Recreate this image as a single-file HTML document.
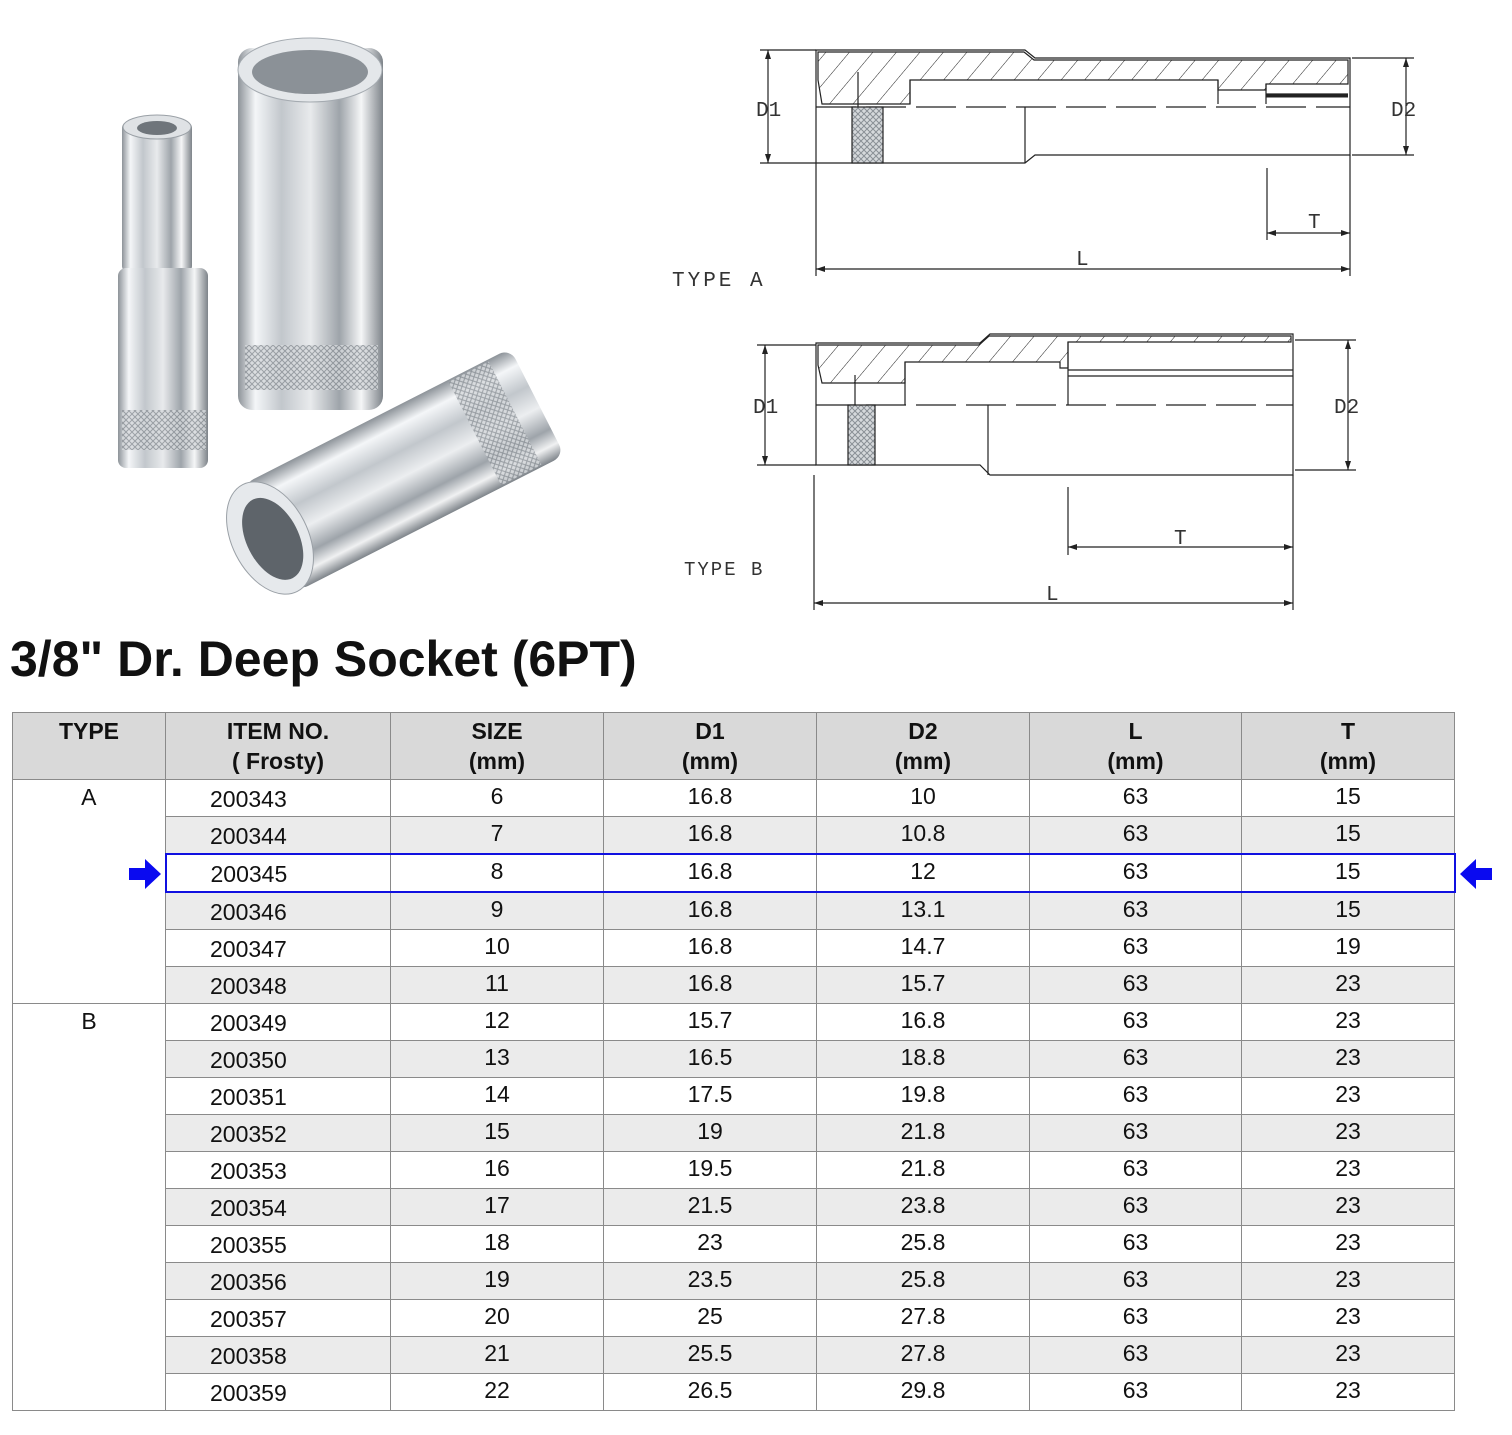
<!DOCTYPE html>
<html><head><meta charset="utf-8"><style>
body{margin:0;background:#fff;width:1512px;height:1435px;position:relative;overflow:hidden;font-family:"Liberation Sans",Arial,sans-serif}
h1{position:absolute;left:10px;top:630px;margin:0;font-size:50px;font-weight:bold;color:#111;letter-spacing:0px}
table{position:absolute;left:12px;top:712px;border-collapse:collapse;width:1443px;table-layout:fixed}
td,th{border:1px solid #8a8a8a;text-align:center;font-size:23px;color:#111;padding:0;box-sizing:border-box}
td{height:35.7px;line-height:33px;vertical-align:top}
th{background:#d9d9d9;height:67px;font-weight:bold;vertical-align:middle;line-height:30px}
tr.g td.c{background:#ebebeb}
td.t{background:#fff;vertical-align:top;line-height:34px}
td.i{text-align:left;padding-left:44px;padding-top:3px;line-height:33px}
tr.hl td.c{border-top:2px solid #1010e0;border-bottom:2px solid #1010e0}
tr.hl td.first{border-left:2px solid #1010e0}
tr.hl td.last{border-right:2px solid #1010e0}
</style></head><body>
<svg width="1512" height="620" style="position:absolute;left:0;top:0">
<defs>
<linearGradient id="ch" x1="0" x2="1" y1="0" y2="0">
<stop offset="0" stop-color="#8d9399"/><stop offset=".12" stop-color="#f4f6f8"/><stop offset=".3" stop-color="#c2c7cc"/><stop offset=".5" stop-color="#e8eaec"/><stop offset=".7" stop-color="#9ea4aa"/><stop offset=".85" stop-color="#f5f6f7"/><stop offset="1" stop-color="#7e848a"/>
</linearGradient>
<linearGradient id="chv" x1="0" x2="0" y1="0" y2="1">
<stop offset="0" stop-color="#8d9399"/><stop offset=".15" stop-color="#f4f6f8"/><stop offset=".35" stop-color="#c2c7cc"/><stop offset=".55" stop-color="#eceef0"/><stop offset=".75" stop-color="#9ea4aa"/><stop offset=".88" stop-color="#f0f1f2"/><stop offset="1" stop-color="#7e848a"/>
</linearGradient>
<pattern id="kn" width="6" height="6" patternUnits="userSpaceOnUse"><rect width="6" height="6" fill="#d6d9dc"/><path d="M0 0L6 6M6 0L0 6" stroke="#8a9096" stroke-width="1"/></pattern>
<pattern id="hat" width="18" height="18" patternUnits="userSpaceOnUse" patternTransform="rotate(40)"><line x1="0" y1="0" x2="0" y2="18" stroke="#222" stroke-width="1"/></pattern>
</defs>
<rect x="122" y="122" width="70" height="150" rx="6" fill="url(#ch)"/>
<rect x="118" y="268" width="90" height="200" rx="8" fill="url(#ch)"/>
<rect x="122" y="410" width="84" height="40" fill="url(#kn)" opacity=".8"/>
<ellipse cx="157" cy="127" rx="34" ry="12" fill="#dfe2e5" stroke="#9aa0a6"/>
<ellipse cx="157" cy="128" rx="20" ry="7" fill="#6f757b"/>
<rect x="238" y="48" width="145" height="362" rx="14" fill="url(#ch)"/>
<rect x="245" y="345" width="133" height="45" fill="url(#kn)" opacity=".8"/>
<ellipse cx="310" cy="70" rx="72" ry="32" fill="#e4e7ea" stroke="#a5abb1"/>
<ellipse cx="310" cy="72" rx="58" ry="22" fill="#8b9197"/>
<g transform="translate(270,538) rotate(-27)">
<rect x="0" y="-60" width="300" height="120" rx="12" fill="url(#chv)"/>
<rect x="230" y="-58" width="45" height="116" fill="url(#kn)" opacity=".8"/>
<ellipse cx="0" cy="0" rx="38" ry="60" fill="#e6e9ec" stroke="#9aa0a6"/>
<ellipse cx="2" cy="2" rx="26" ry="44" fill="#5e646a"/>
</g>
<g fill="none" stroke="#222" stroke-width="1.2">
<path d="M816 50H1025L1035 58H1350V155H1035L1025 163H816Z" fill="#fff"/>
<path d="M818 52H1024L1034 60H1348V84H1266V90H1218V80H910V104H822L818 80Z" fill="url(#hat)"/>
<path d="M910 80V104M1218 80V104M1266 84V104M1266 94H1348" />
<path d="M1266 96H1348" stroke-width="3"/>
<path d="M816 107H1350" stroke-dasharray="40 10"/>
<rect x="852" y="107" width="31" height="56" fill="url(#kn)"/>
<path d="M1025 107V163M858 72V107"/>
<path d="M760 50H816M760 163H816M768 50V163M1352 58H1414M1352 155H1414M1406 58V155"/>
<path d="M816 163V276M1350 155V276M816 269H1350M1267 168V240M1267 233H1350"/>
</g>
<g fill="#222"><path d="M768 50l-3 9h6zM768 163l-3-9h6zM1406 58l-3 9h6zM1406 155l-3-9h6zM816 269l9-3v6zM1350 269l-9-3v6zM1267 233l9-3v6zM1350 233l-9-3v6z"/></g>
<g fill="none" stroke="#222" stroke-width="1.2">
<path d="M816 343H980L990 334H1293V475H990L980 465H816Z" fill="#fff"/>
<path d="M818 345H979L989 336H1291V342H1068V368H1060V362H905V383H822L818 365Z" fill="url(#hat)"/>
<path d="M905 362V405M1068 342V405M1068 370H1293M1068 376H1293"/>
<path d="M816 405H1293" stroke-dasharray="40 10"/>
<rect x="848" y="405" width="27" height="60" fill="url(#kn)"/>
<path d="M988 405V475M855 375V405"/>
<path d="M757 345H816M757 465H816M765 345V465M1295 340H1356M1295 470H1356M1348 340V470"/>
<path d="M814 475V610M1293 475V610M814 603H1293M1068 487V555M1068 547H1293"/>
</g>
<g fill="#222"><path d="M765 345l-3 9h6zM765 465l-3-9h6zM1348 340l-3 9h6zM1348 470l-3-9h6zM814 603l9-3v6zM1293 603l-9-3v6zM1068 547l9-3v6zM1293 547l-9-3v6z"/></g>
<g font-family="Liberation Mono,monospace" font-size="21" fill="#333">
<text x="756" y="116">D1</text><text x="1391" y="116">D2</text><text x="1308" y="228">T</text><text x="1076" y="265">L</text><text x="672" y="286" letter-spacing="3">TYPE A</text>
<text x="753" y="413">D1</text><text x="1334" y="413">D2</text><text x="1174" y="544">T</text><text x="1046" y="600">L</text><text x="684" y="575" font-size="19" letter-spacing="2">TYPE B</text>
</g>
</svg>
<h1>3/8" Dr. Deep Socket (6PT)</h1>
<table>
<colgroup><col style="width:153px"><col style="width:225px"><col style="width:213px"><col style="width:213px"><col style="width:213px"><col style="width:212px"><col style="width:213px"></colgroup>
<tr><th>TYPE<br>&nbsp;</th><th>ITEM NO.<br>( Frosty)</th><th>SIZE<br>(mm)</th><th>D1<br>(mm)</th><th>D2<br>(mm)</th><th>L<br>(mm)</th><th>T<br>(mm)</th></tr>
<tr><td class="t" rowspan="6">A</td><td class="c i">200343</td><td class="c">6</td><td class="c">16.8</td><td class="c">10</td><td class="c">63</td><td class="c">15</td></tr>
<tr class="g"><td class="c i">200344</td><td class="c">7</td><td class="c">16.8</td><td class="c">10.8</td><td class="c">63</td><td class="c">15</td></tr>
<tr class="hl"><td class="c i first">200345</td><td class="c">8</td><td class="c">16.8</td><td class="c">12</td><td class="c">63</td><td class="c last">15</td></tr>
<tr class="g"><td class="c i">200346</td><td class="c">9</td><td class="c">16.8</td><td class="c">13.1</td><td class="c">63</td><td class="c">15</td></tr>
<tr><td class="c i">200347</td><td class="c">10</td><td class="c">16.8</td><td class="c">14.7</td><td class="c">63</td><td class="c">19</td></tr>
<tr class="g"><td class="c i">200348</td><td class="c">11</td><td class="c">16.8</td><td class="c">15.7</td><td class="c">63</td><td class="c">23</td></tr>
<tr><td class="t" rowspan="11">B</td><td class="c i">200349</td><td class="c">12</td><td class="c">15.7</td><td class="c">16.8</td><td class="c">63</td><td class="c">23</td></tr>
<tr class="g"><td class="c i">200350</td><td class="c">13</td><td class="c">16.5</td><td class="c">18.8</td><td class="c">63</td><td class="c">23</td></tr>
<tr><td class="c i">200351</td><td class="c">14</td><td class="c">17.5</td><td class="c">19.8</td><td class="c">63</td><td class="c">23</td></tr>
<tr class="g"><td class="c i">200352</td><td class="c">15</td><td class="c">19</td><td class="c">21.8</td><td class="c">63</td><td class="c">23</td></tr>
<tr><td class="c i">200353</td><td class="c">16</td><td class="c">19.5</td><td class="c">21.8</td><td class="c">63</td><td class="c">23</td></tr>
<tr class="g"><td class="c i">200354</td><td class="c">17</td><td class="c">21.5</td><td class="c">23.8</td><td class="c">63</td><td class="c">23</td></tr>
<tr><td class="c i">200355</td><td class="c">18</td><td class="c">23</td><td class="c">25.8</td><td class="c">63</td><td class="c">23</td></tr>
<tr class="g"><td class="c i">200356</td><td class="c">19</td><td class="c">23.5</td><td class="c">25.8</td><td class="c">63</td><td class="c">23</td></tr>
<tr><td class="c i">200357</td><td class="c">20</td><td class="c">25</td><td class="c">27.8</td><td class="c">63</td><td class="c">23</td></tr>
<tr class="g"><td class="c i">200358</td><td class="c">21</td><td class="c">25.5</td><td class="c">27.8</td><td class="c">63</td><td class="c">23</td></tr>
<tr><td class="c i">200359</td><td class="c">22</td><td class="c">26.5</td><td class="c">29.8</td><td class="c">63</td><td class="c">23</td></tr>
</table>
<svg width="1512" height="40" style="position:absolute;left:0;top:855px">
<path d="M129 13H145V4L161 19L145 34V25H129Z" fill="#0a0af0"/>
<path d="M1492 13H1476V4L1460 19L1476 34V25H1492Z" fill="#0a0af0"/>
</svg>
</body></html>
